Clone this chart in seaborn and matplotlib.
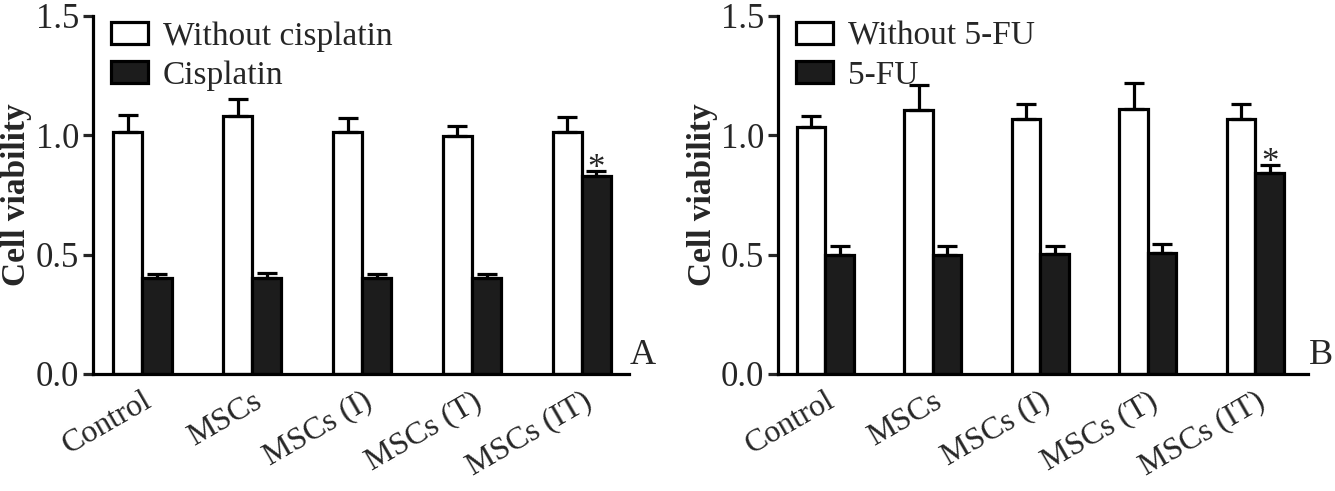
import numpy as np
import pandas as pd
import matplotlib
matplotlib.use("Agg")
import matplotlib.pyplot as plt
import seaborn as sns

# 数据
groups = ["Control", "MSCs", "MSCs (I)", "MSCs (T)", "MSCs (IT)"]

cis_labels = ["Without cisplatin", "Cisplatin"]
cis_without = [1.013, 1.080, 1.013, 0.996, 1.013]
cis_without_err = [0.071, 0.070, 0.057, 0.044, 0.062]
cis_with = [0.400, 0.400, 0.400, 0.400, 0.830]
cis_with_err = [0.020, 0.022, 0.020, 0.020, 0.020]

fu_labels = ["Without 5-FU", "5-FU"]
fu_without = [1.033, 1.105, 1.067, 1.109, 1.067]
fu_without_err = [0.046, 0.105, 0.063, 0.109, 0.063]
fu_with = [0.500, 0.500, 0.503, 0.505, 0.840]
fu_with_err = [0.038, 0.038, 0.033, 0.038, 0.035]

panel_letters = ["A", "B"]
y_ticks = [0.0, 0.5, 1.0, 1.5]

sns.set_theme(style="white")
plt.rcParams['font.family'] = ['Liberation Serif', 'DejaVu Serif']

fig = plt.figure(figsize=(13.35, 4.91), dpi=100)
ax_a = fig.add_axes([0.0697, 0.2383, 0.4015, 0.7295])
ax_b = fig.add_axes([0.5828, 0.2383, 0.3970, 0.7295])


def draw_panel(ax, labels, without, without_err, with_, with_err, letter, xlim):
    df = pd.DataFrame({
        "group": groups * 2,
        "cond": [labels[0]] * len(groups) + [labels[1]] * len(groups),
        "value": list(without) + list(with_),
    })
    sns.barplot(data=df, x="group", y="value", hue="cond", order=groups,
                hue_order=labels, palette=["white", "#1c1c1c"],
                edgecolor="black", linewidth=2.3, width=0.53, ax=ax,
                errorbar=None, legend=False)

    # 误差线（只画上半部分）
    errs = list(without_err) + list(with_err)
    vals = list(without) + list(with_)
    xs = [p.get_x() + p.get_width() / 2 for p in ax.patches[:len(vals)]]
    ax.errorbar(xs, vals, yerr=[np.zeros(len(vals)), errs], fmt="none",
                ecolor="black", elinewidth=2.3, capsize=7.5, capthick=2.3)

    # 星号
    ax.text(xs[-1], vals[-1] + errs[-1] - 0.03, "*", ha="center", va="baseline",
            fontsize=25)

    ax.set_ylim(0, 1.5)
    ax.set_xlim(*xlim)
    ax.set_yticks(y_ticks)
    ax.set_yticklabels([f"{t:.1f}" for t in y_ticks], fontsize=25)
    ax.set_xticks(range(len(groups)))
    ax.set_xticklabels(groups, rotation=30, ha="right", rotation_mode="anchor",
                       fontsize=23)
    ax.tick_params(axis="y", direction="out", length=7, width=2.3, left=True, pad=3)
    ax.tick_params(axis="x", length=0, pad=9)
    ax.set_xlabel("")
    ax.set_ylabel("Cell viability", fontsize=24, fontweight="bold")
    ax.yaxis.set_label_coords(-0.113, 0.5)

    for side in ["top", "right"]:
        ax.spines[side].set_visible(False)
    for side in ["left", "bottom"]:
        ax.spines[side].set_color("black")
        ax.spines[side].set_linewidth(2.3)

    # 图例
    handles = [ax.patches[0], ax.patches[len(groups)]]
    ax.legend(handles, labels, loc="upper left", bbox_to_anchor=(0.034, 0.985),
              frameon=False, fontsize=24, handlelength=1.1, handleheight=0.65,
              handletextpad=0.45, labelspacing=0.25, borderpad=0, borderaxespad=0)

    ax.text(1.002, 0.028, letter, transform=ax.transAxes, ha="left", va="baseline",
            fontsize=26)


draw_panel(ax_a, cis_labels, cis_without, cis_without_err, cis_with, cis_with_err,
           panel_letters[0], (-0.45, 4.43))
draw_panel(ax_b, fu_labels, fu_without, fu_without_err, fu_with, fu_with_err,
           panel_letters[1], (-0.44, 4.49))

fig.savefig("out.png", dpi=100)
